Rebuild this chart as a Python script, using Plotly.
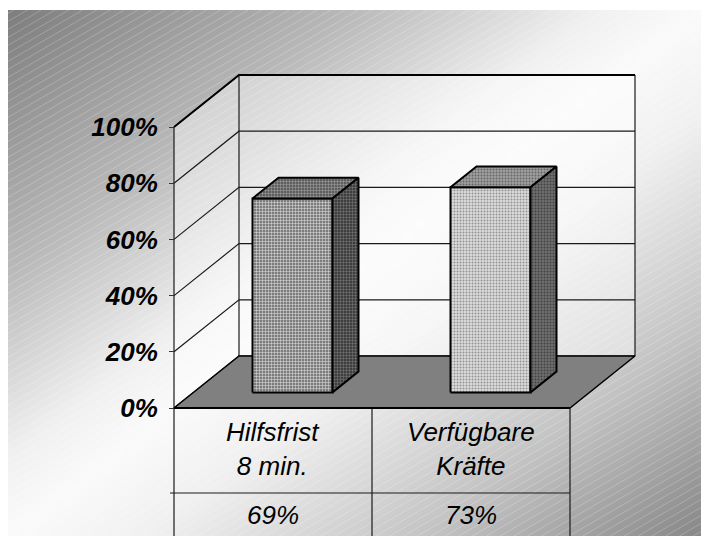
import numpy as np
import plotly.graph_objects as go

# ---- data ----
categories = ["Hilfsfrist<br>8 min.", "Verfügbare<br>Kräfte"]
values = [69, 73]
tick_values = [0, 20, 40, 60, 80, 100]
tick_labels = ["0%", "20%", "40%", "60%", "80%", "100%"]

# ---- geometry of the oblique 3-D frame (in axis units) ----
W_PX, H_PX = 701, 536
X_PER_PX = 1 / 198.0          # one category slot is 198 px wide
Y_PER_PX = 1 / 2.81           # 100 % spans 281 px
X0_PX, Y0_PX = 174, 408       # pixel position of the front-left floor corner
DX = 65 * X_PER_PX            # depth shift of the back wall
DY = 52 * Y_PER_PX
BAR_W = 80 * X_PER_PX
BAR_FRONT, BAR_DEPTH = 0.3, 0.4
YMAX = 100
N = len(values)

x_range = [-X0_PX * X_PER_PX, N + (W_PX - (X0_PX + N * 198)) * X_PER_PX]
y_range = [-(H_PX - Y0_PX) * Y_PER_PX, Y0_PX * Y_PER_PX]


def px_to_x(px):
    return (px - X0_PX) * X_PER_PX


def py_to_y(py):
    return (Y0_PX - py) * Y_PER_PX


FONT = "Liberation Sans, Arial, sans-serif"
fig = go.Figure()

# ---- diagonal grey gradient backdrop ----
bx0, bx1, by0, by1 = 8, W_PX, 10, H_PX
nx, ny = 60, 48
xe = np.linspace(bx0, bx1, nx + 1)
ye = np.linspace(by0, by1, ny + 1)
xc = (xe[:-1] + xe[1:]) / 2
yc = (ye[:-1] + ye[1:]) / 2
XC, YC = np.meshgrid(xc, yc)
t = (XC - bx0) / (bx1 - bx0) + (YC - by0) / (by1 - by0)
stops_t = [0.0, 0.5, 0.85, 1.0, 1.2, 1.6, 2.0]
stops_v = [125, 185, 240, 250, 240, 195, 135]
z = np.interp(t, stops_t, stops_v)
fig.add_trace(go.Heatmap(
    x=px_to_x(xe), y=py_to_y(ye), z=z, zmin=0, zmax=255, zsmooth="best",
    colorscale=[[0, "rgb(0,0,0)"], [1, "rgb(255,255,255)"]],
    showscale=False, hoverinfo="skip"))

# fine light hatching over the backdrop
slope, step = 0.58, 8
hx, hy = [], []
for c in np.arange(by0, by1 + slope * bx1, step):
    p0 = max(bx0, (c - by1) / slope)
    p1 = min(bx1, (c - by0) / slope)
    if p0 < p1:
        hx += [px_to_x(p0), px_to_x(p1), None]
        hy += [py_to_y(c - slope * p0), py_to_y(c - slope * p1), None]
fig.add_trace(go.Scatter(x=hx, y=hy, mode="lines", hoverinfo="skip",
                         line=dict(color="rgba(255,255,255,0.22)", width=1)))


def poly(xs, ys, fill, line_color="black", line_width=1.0, pattern=None):
    kw = dict(x=list(xs) + [xs[0]], y=list(ys) + [ys[0]], mode="lines",
              fill="toself", fillcolor=fill, hoverinfo="skip",
              line=dict(color=line_color, width=line_width))
    if pattern:
        kw["fillpattern"] = pattern
    fig.add_trace(go.Scatter(**kw))


# ---- walls ----
wall_fill = "rgba(255,255,255,0.42)"
poly([0, DX, DX, 0], [0, DY, YMAX + DY, YMAX], wall_fill, line_width=0)
poly([DX, N + DX, N + DX, DX], [DY, DY, YMAX + DY, YMAX + DY], wall_fill, line_width=0)

# gridlines on the back and side walls
gx, gy = [], []
for v in tick_values:
    gx += [0, DX, N + DX, None]
    gy += [v, v + DY, v + DY, None]
gx += [DX, DX, None, N + DX, N + DX, None]
gy += [DY, YMAX + DY, None, DY, YMAX + DY, None]
fig.add_trace(go.Scatter(x=gx, y=gy, mode="lines", hoverinfo="skip",
                         line=dict(color="#1a1a1a", width=1.2)))
fig.add_trace(go.Scatter(x=[0, DX, N + DX], y=[YMAX, YMAX + DY, YMAX + DY],
                         mode="lines", hoverinfo="skip",
                         line=dict(color="black", width=2)))

# ---- floor ----
poly([0, N, N + DX, DX], [0, 0, DY, DY], "#808080", line_width=1.5)

# ---- bars ----
bar_styles = [
    dict(front=("#7c7c7c", "#ececec", "+", 0.28), top=("#5e5e5e", "#a8a8a8", "+", 0.28),
         side=("#3e3e3e", "#808080", "+", 0.28)),
    dict(front=("#dcdcdc", "#929292", ".", 0.35), top=("#a0a0a0", "#666666", ".", 0.35),
         side=("#6e6e6e", "#424242", ".", 0.35)),
]


def pat(spec):
    bg, fg, shape, solid = spec
    return dict(shape=shape, bgcolor=bg, fgcolor=fg, size=3, solidity=solid,
                fillmode="replace")


ddx, ddy = DX * BAR_DEPTH, DY * BAR_DEPTH
for i, v in enumerate(values):
    st = bar_styles[i]
    x0 = i + 0.5 - BAR_W / 2 + DX * BAR_FRONT
    x1 = x0 + BAR_W
    y0 = DY * BAR_FRONT
    y1 = y0 + v
    poly([x0, x1, x1, x0], [y0, y0, y1, y1], st["front"][0], line_width=2,
         pattern=pat(st["front"]))
    poly([x0, x1, x1 + ddx, x0 + ddx], [y1, y1, y1 + ddy, y1 + ddy],
         st["top"][0], line_width=2, pattern=pat(st["top"]))
    poly([x1, x1 + ddx, x1 + ddx, x1], [y0, y0 + ddy, y1 + ddy, y1],
         st["side"][0], line_width=2, pattern=pat(st["side"]))

# ---- data table under the chart ----
row_y = py_to_y(493)
bottom_y = y_range[0]
tx = [0, 0, None, 1, 1, None, N, N, None, px_to_x(170), N, None]
ty = [YMAX, bottom_y, None, 0, bottom_y, None, 0, bottom_y, None, row_y, row_y, None]
fig.add_trace(go.Scatter(x=tx, y=ty, mode="lines", hoverinfo="skip",
                         line=dict(color="#1a1a1a", width=1.2)))
fig.add_trace(go.Scatter(x=[0, N], y=[0, 0], mode="lines", hoverinfo="skip",
                         line=dict(color="black", width=2)))

table_font = dict(family=FONT, size=26, color="black", style="italic")
for i, (cat, v) in enumerate(zip(categories, values)):
    fig.add_annotation(x=i + 0.5, y=py_to_y(449), text=cat, showarrow=False,
                       font=table_font, xanchor="center", yanchor="middle")
    fig.add_annotation(x=i + 0.5, y=py_to_y(515), text=f"{v}%", showarrow=False,
                       font=table_font, xanchor="center", yanchor="middle")

fig.update_layout(
    width=W_PX, height=H_PX, autosize=False,
    margin=dict(l=0, r=0, t=0, b=0, pad=0),
    paper_bgcolor="white", plot_bgcolor="rgba(0,0,0,0)",
    showlegend=False,
    xaxis=dict(range=x_range, visible=False, fixedrange=True),
    yaxis=dict(range=y_range, anchor="free", position=X0_PX / W_PX,
               tickvals=tick_values, ticktext=tick_labels,
               ticks="outside", ticklen=5, tickcolor="#333", tickwidth=1.2,
               ticklabelstandoff=6,
               tickfont=dict(family=FONT, size=26, color="black",
                             weight="bold", style="italic"),
               showgrid=False, zeroline=False, showline=False, fixedrange=True),
)

fig.write_html("out.html")
